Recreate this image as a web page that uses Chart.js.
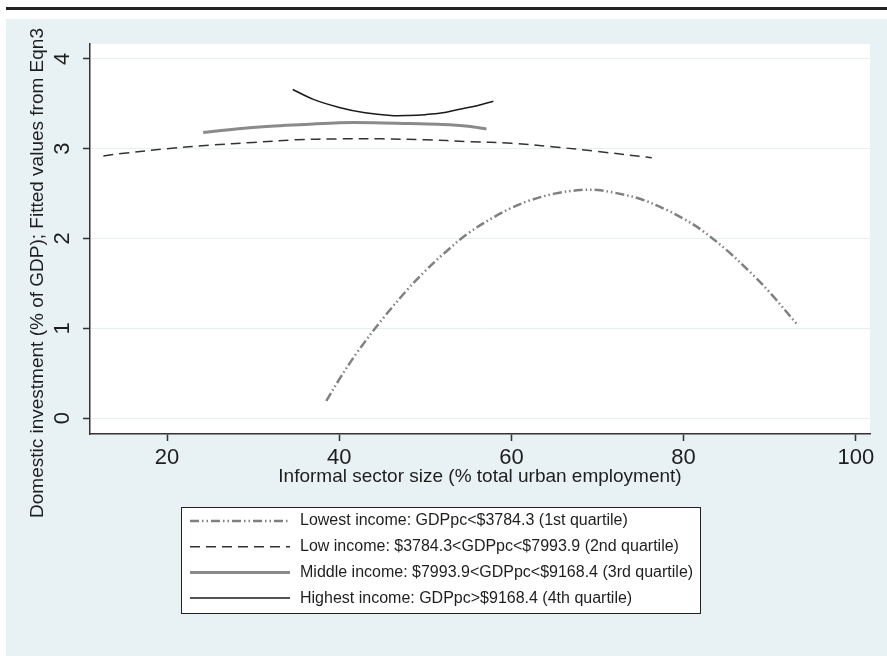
<!DOCTYPE html>
<html><head><meta charset="utf-8">
<script src="https://cdn.jsdelivr.net/npm/chart.js@4.4.1/dist/chart.umd.min.js"></script>
<style>html,body{margin:0;padding:0;background:#fff;}canvas{display:block;}</style>
</head><body>
<canvas id="c" width="887" height="656"></canvas>
<script>
const xTicks = [20, 40, 60, 80, 100];
const yTicks = [0, 1, 2, 3, 4];
const seriesLabels = [
  'Lowest income: GDPpc<$3784.3 (1st quartile)',
  'Low income: $3784.3<GDPpc<$7993.9 (2nd quartile)',
  'Middle income: $7993.9<GDPpc<$9168.4 (3rd quartile)',
  'Highest income: GDPpc>$9168.4 (4th quartile)'
];
const xTitle = 'Informal sector size (% total urban employment)';
const yTitle = 'Domestic investment (% of GDP); Fitted values from Eqn3';

const lowestX = [38.5, 40, 42, 45, 48, 50, 52, 55, 58, 60, 62, 65, 68, 70, 72, 75, 78, 80, 82, 85, 88, 90, 93.3];
const lowestY = [0.19, 0.43, 0.72, 1.10, 1.44, 1.64, 1.82, 2.06, 2.24, 2.34, 2.42, 2.50, 2.54, 2.54, 2.51, 2.44, 2.32, 2.22, 2.10, 1.87, 1.60, 1.40, 1.03];
const lowX = [12.6, 15, 20, 25, 30, 35, 40, 45, 50, 55, 60, 65, 70, 76.3];
const lowY = [2.92, 2.95, 3.00, 3.04, 3.07, 3.10, 3.11, 3.11, 3.10, 3.08, 3.06, 3.02, 2.97, 2.90];
const middleX = [24.2, 28, 32, 36, 40, 44, 48, 52, 55, 57.1];
const middleY = [3.18, 3.22, 3.25, 3.27, 3.29, 3.29, 3.28, 3.27, 3.25, 3.22];
const highestX = [34.6, 37, 40, 43, 46, 48, 50, 52, 54, 56, 57.9];
const highestY = [3.66, 3.55, 3.46, 3.40, 3.37, 3.37, 3.38, 3.40, 3.44, 3.48, 3.53];

const pts = (xs, ys) => xs.map((x, i) => ({x: x, y: ys[i]}));
const FONT = "'Liberation Sans', Arial, sans-serif";
const TXT = '#1e1e1e';

const deco = {
  id: 'deco',
  beforeDraw(chart) {
    const ctx = chart.ctx, a = chart.chartArea;
    ctx.save();
    ctx.fillStyle = '#ffffff'; ctx.fillRect(0, 0, chart.width, chart.height);
    ctx.fillStyle = '#222222'; ctx.fillRect(6, 7, 881, 3);
    ctx.fillStyle = '#e8f1f3'; ctx.fillRect(6, 19, 881, 637);
    ctx.fillStyle = '#ffffff'; ctx.fillRect(a.left, a.top, a.right - a.left, a.bottom - a.top);
    ctx.restore();
  },
  afterDraw(chart) {
    const ctx = chart.ctx;
    ctx.save();
    ctx.translate(38, 273);
    ctx.rotate(-Math.PI / 2);
    ctx.font = '19px ' + FONT;
    ctx.fillStyle = TXT;
    ctx.textAlign = 'center';
    ctx.textBaseline = 'middle';
    ctx.fillText(yTitle, 0, 0);
    ctx.restore();
    ctx.save();
    ctx.fillStyle = '#ffffff';
    ctx.fillRect(181, 507, 519, 106);
    ctx.strokeStyle = '#222222';
    ctx.lineWidth = 1;
    ctx.strokeRect(181.5, 507.5, 519, 106);
    chart.data.datasets.forEach((ds, i) => {
      const y = 521 + i * 25.7;
      ctx.save();
      ctx.strokeStyle = ds.borderColor;
      ctx.lineWidth = ds.borderWidth;
      ctx.setLineDash(ds.borderDash || []);
      ctx.beginPath();
      ctx.moveTo(190, y); ctx.lineTo(290, y);
      ctx.stroke();
      ctx.restore();
      ctx.font = '16px ' + FONT;
      ctx.fillStyle = TXT;
      ctx.textAlign = 'left';
      ctx.textBaseline = 'middle';
      ctx.fillText(ds.label, 300, y);
    });
    ctx.restore();
  }
};

new Chart(document.getElementById('c'), {
  type: 'line',
  data: {
    datasets: [
      {label: seriesLabels[0], data: pts(lowestX, lowestY), borderColor: '#808080', borderWidth: 2.5, borderDash: [9, 3, 1.5, 3, 1.5, 3]},
      {label: seriesLabels[1], data: pts(lowX, lowY), borderColor: '#333333', borderWidth: 1.5, borderDash: [10, 6]},
      {label: seriesLabels[2], data: pts(middleX, middleY), borderColor: '#8a8a8a', borderWidth: 3},
      {label: seriesLabels[3], data: pts(highestX, highestY), borderColor: '#1a1a1a', borderWidth: 1.5}
    ]
  },
  options: {
    responsive: false,
    animation: false,
    devicePixelRatio: 1,
    elements: {point: {radius: 0}, line: {tension: 0.35, fill: false}},
    layout: {padding: {left: 0, top: 44, right: 17, bottom: 162}},
    plugins: {legend: {display: false}, tooltip: {enabled: false}},
    scales: {
      x: {
        type: 'linear', min: 11.05, max: 101.65,
        afterBuildTicks: s => { s.ticks = xTicks.map(v => ({value: v})); },
        afterFit: s => { s.height = 60; },
        grid: {drawOnChartArea: false, drawTicks: true, tickLength: 7, tickColor: '#333333', tickWidth: 1.5},
        border: {display: true, color: '#333333', width: 1.5},
        ticks: {font: {family: FONT, size: 22, lineHeight: 1.2}, color: TXT, padding: 4, maxRotation: 0, minRotation: 0},
        title: {display: true, text: xTitle, font: {family: FONT, size: 19, lineHeight: 1.2}, color: TXT, padding: {top: 0, bottom: 6}}
      },
      y: {
        type: 'linear', min: -0.178, max: 4.167,
        afterBuildTicks: s => { s.ticks = yTicks.map(v => ({value: v})); },
        afterFit: s => { s.width = 90; },
        grid: {drawOnChartArea: true, color: '#e6eff2', lineWidth: 1, drawTicks: true, tickLength: 7, tickColor: '#333333', tickWidth: 1.5},
        border: {display: true, color: '#333333', width: 1.5},
        ticks: {font: {family: FONT, size: 22}, color: TXT, padding: 14, minRotation: 90, maxRotation: 90, crossAlign: 'center'},
        title: {display: false}
      }
    }
  },
  plugins: [deco]
});
</script>
</body></html>
